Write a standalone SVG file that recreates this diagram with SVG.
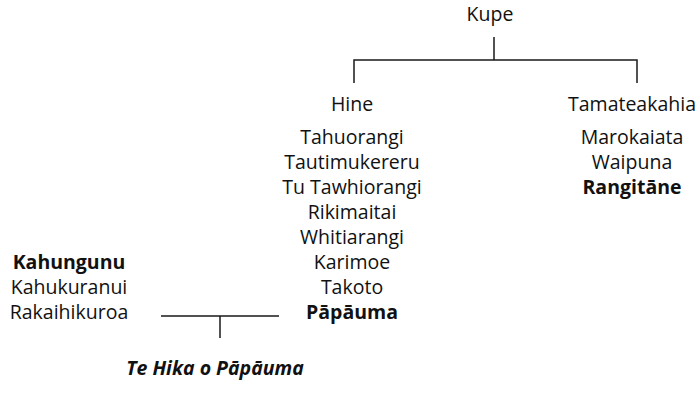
<svg xmlns="http://www.w3.org/2000/svg" width="699" height="407" viewBox="0 0 699 407">
<style>
text{font-family:"Open Sans","Liberation Sans",sans-serif;font-size:19.5px;fill:#111;text-anchor:middle}
.b{font-weight:bold}
.bi{font-weight:bold;font-style:italic}
.ln{stroke:#1a1a1a;stroke-width:1.5;fill:none}
</style>
<rect width="699" height="407" fill="#fff"/>
<g id="connectors">
<path class="ln" d="M494 37V60M354 83V60H637V83"/>
<path class="ln" d="M161 316H279M220 316V338"/>
</g>
<g id="kupe"><text x="490" y="21">Kupe</text></g>
<g id="hine">
<text x="352" y="111">Hine</text>
<text x="352" y="144">Tahuorangi</text>
<text x="352" y="169">Tautimukereru</text>
<text x="352" y="194">Tu Tawhiorangi</text>
<text x="352" y="219">Rikimaitai</text>
<text x="352" y="244">Whitiarangi</text>
<text x="352" y="269">Karimoe</text>
<text x="352" y="294">Takoto</text>
<text x="352" y="319" class="b">Pāpāuma</text>
</g>
<g id="tamateakahia">
<text x="632" y="111">Tamateakahia</text>
<text x="632" y="144">Marokaiata</text>
<text x="632" y="169">Waipuna</text>
<text x="632" y="194" class="b">Rangitāne</text>
</g>
<g id="kahungunu">
<text x="69" y="269" class="b">Kahungunu</text>
<text x="69" y="294">Kahukuranui</text>
<text x="69" y="319">Rakaihikuroa</text>
</g>
<g id="tehika"><text x="215" y="375" class="bi">Te Hika o Pāpāuma</text></g>
</svg>
